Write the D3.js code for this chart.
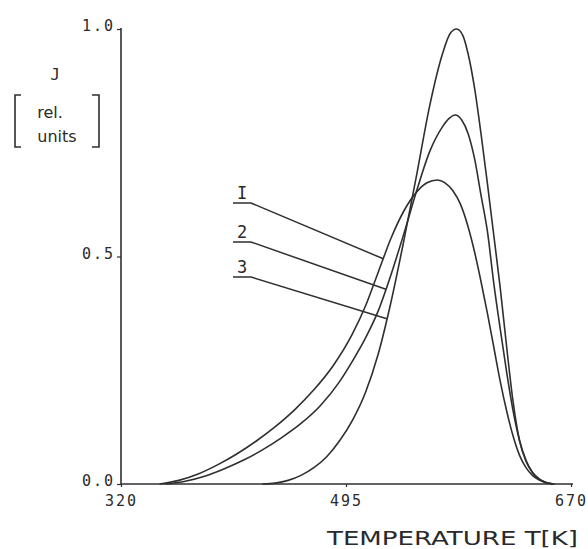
<!DOCTYPE html>
<html>
<head>
<meta charset="utf-8">
<script src="https://cdn.jsdelivr.net/npm/d3@7"></script>
<style>
  html, body { margin: 0; padding: 0; background: #fff; }
  svg { display: block; }
  text { font-family: "DejaVu Sans Mono", monospace; fill: #2a2a2a; }
</style>
</head>
<body>
<svg id="chart" width="588" height="549"></svg>
<script>
// Glow curves: temperature (K) and relative intensity J
const curve1T = [350, 365, 380, 395, 410, 425, 440, 455, 470, 485, 500, 510, 520, 530, 540, 550, 558, 566, 572, 578, 584, 590, 595, 600, 605, 610, 615, 620, 625, 630, 635, 640, 645, 650, 657];
const curve1J = [0, 0.008, 0.022, 0.042, 0.066, 0.094, 0.126, 0.163, 0.207, 0.26, 0.33, 0.39, 0.465, 0.54, 0.60, 0.642, 0.662, 0.668, 0.662, 0.645, 0.615, 0.565, 0.51, 0.445, 0.375, 0.30, 0.225, 0.16, 0.105, 0.063, 0.036, 0.019, 0.009, 0.003, 0];

const curve2T = [355, 370, 385, 400, 415, 430, 445, 460, 475, 490, 500, 510, 520, 530, 540, 550, 560, 570, 575, 580, 585, 590, 595, 600, 605, 610, 615, 620, 625, 630, 635, 640, 645, 650, 657];
const curve2J = [0, 0.006, 0.017, 0.033, 0.052, 0.075, 0.102, 0.133, 0.172, 0.225, 0.27, 0.32, 0.38, 0.46, 0.55, 0.645, 0.73, 0.785, 0.803, 0.811, 0.80, 0.77, 0.715, 0.635, 0.555, 0.44, 0.34, 0.245, 0.16, 0.095, 0.052, 0.026, 0.012, 0.004, 0];

const curve3T = [430, 440, 450, 460, 470, 480, 490, 500, 510, 520, 530, 540, 550, 560, 570, 576, 581, 586, 590, 595, 600, 605, 610, 615, 620, 625, 630, 635, 640, 645, 650, 656];
const curve3J = [0, 0.002, 0.008, 0.019, 0.036, 0.060, 0.095, 0.14, 0.20, 0.285, 0.40, 0.535, 0.68, 0.83, 0.945, 0.99, 1.0, 0.985, 0.945, 0.87, 0.77, 0.66, 0.545, 0.43, 0.30, 0.18, 0.095, 0.05, 0.025, 0.011, 0.004, 0];

const curveNames = ["I", "2", "3"];
// temperature at which each label's leader line meets its curve
const leaderT = [524, 526, 526.8];

const xTicks = [320, 495, 670];
const yTicks = [0.0, 0.5, 1.0];

const svg = d3.select("#chart");
const ink = "#2f2f2f";

const x = d3.scaleLinear().domain([320, 670]).range([121, 571]);
const y = d3.scaleLinear().domain([0, 1]).range([484, 29]);

const series = [
  { T: curve1T, J: curve1J },
  { T: curve2T, J: curve2J },
  { T: curve3T, J: curve3J }
].map(s => s.T.map((t, i) => ({ t, j: s.J[i] })));

// axes
const xAxis = d3.axisBottom(x).tickValues(xTicks).tickSize(3).tickFormat(d3.format("d"));
const yAxis = d3.axisLeft(y).tickValues(yTicks).tickSize(4).tickFormat(d3.format(".1f"));

const gx = svg.append("g").attr("transform", "translate(0,484)").call(xAxis);
gx.select(".domain").attr("d", "M121,0H573").attr("stroke", ink).attr("stroke-width", 1.6);
gx.selectAll(".tick line").attr("stroke", ink).attr("stroke-width", 1.2);
gx.selectAll(".tick text")
  .attr("y", 11)
  .attr("font-size", 15)
  .attr("letter-spacing", 2)
  .attr("fill", "#333")
  .style("font-family", "'DejaVu Sans Mono', monospace");

const gy = svg.append("g").attr("transform", "translate(121,0)").call(yAxis);
gy.select(".domain").attr("d", "M0,484V28").attr("stroke", ink).attr("stroke-width", 1.6);
gy.selectAll(".tick line").attr("stroke", ink).attr("stroke-width", 1.2);
gy.selectAll(".tick text")
  .attr("x", -6)
  .attr("dy", "0.1em")
  .attr("font-size", 15)
  .attr("letter-spacing", 2)
  .attr("fill", "#333")
  .style("font-family", "'DejaVu Sans Mono', monospace");

// curves
const line = d3.line()
  .x(d => x(d.t))
  .y(d => y(d.j))
  .curve(d3.curveMonotoneX);

svg.append("g").selectAll("path")
  .data(series)
  .join("path")
  .attr("d", line)
  .attr("fill", "none")
  .attr("stroke", ink)
  .attr("stroke-width", 1.6)
  .attr("stroke-linejoin", "round");

// value of a curve at temperature t (linear between samples)
function valueAt(s, t) {
  for (let i = 1; i < s.length; i++) {
    if (t <= s[i].t) {
      const a = s[i - 1], b = s[i];
      return a.j + (b.j - a.j) * (t - a.t) / (b.t - a.t);
    }
  }
  return 0;
}

// curve labels with underline and leader line
const labelTop = [203, 242, 277];
const lab = svg.append("g");
curveNames.forEach((name, i) => {
  const ty = labelTop[i];
  const tx = leaderT[i];
  const ex = x(tx), ey = y(valueAt(series[i], tx));
  lab.append("path")
    .attr("d", `M233,${ty}H251L${ex},${ey}`)
    .attr("fill", "none")
    .attr("stroke", ink)
    .attr("stroke-width", 1.5);
  lab.append("text")
    .attr("x", 242)
    .attr("y", ty - 4)
    .attr("text-anchor", "middle")
    .attr("font-size", 17)
    .text(name);
});

// y-axis title
const yt = svg.append("g");
yt.append("text").attr("x", 55).attr("y", 80).attr("text-anchor", "middle")
  .attr("font-size", 16).text("J");
yt.append("text").attr("x", 50).attr("y", 118).attr("text-anchor", "middle")
  .attr("font-size", 16).style("font-family", "'DejaVu Sans', sans-serif").text("rel.");
yt.append("text").attr("x", 57).attr("y", 142).attr("text-anchor", "middle")
  .attr("font-size", 16).style("font-family", "'DejaVu Sans', sans-serif").text("units");
yt.append("path").attr("d", "M21,95H15V147H21").attr("fill", "none").attr("stroke", ink).attr("stroke-width", 1.6);
yt.append("path").attr("d", "M92,95H99V147H92").attr("fill", "none").attr("stroke", ink).attr("stroke-width", 1.6);

// x-axis title
svg.append("text")
  .attr("x", 327)
  .attr("y", 545)
  .attr("font-size", 19)
  .attr("textLength", 251)
  .attr("lengthAdjust", "spacingAndGlyphs")
  .style("font-family", "'DejaVu Sans', sans-serif")
  .text("TEMPERATURE T[K]");
</script>
</body>
</html>
